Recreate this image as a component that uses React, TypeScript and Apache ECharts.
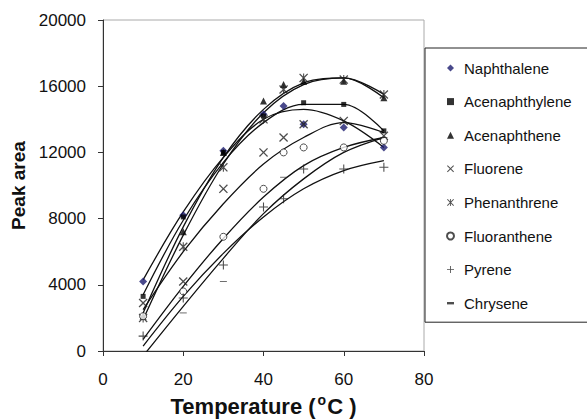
import React, { useEffect, useRef } from "react";
import * as echarts from "echarts";

const temps = [10, 20, 30, 40, 45, 50, 60, 70];
const naphthalene = [4200, 8200, 12100, 14300, 14800, 13700, 13500, 12300];
const acenaphthylene = [3300, 8100, 12000, 14200, null, 15000, 14900, 13300];
const acenaphthene = [2100, 7200, 12000, 15100, 16100, 16300, 16300, 15300];
const fluorene = [2900, 4200, 9800, 12000, 12900, 13700, 13900, 13000];
const phenanthrene = [2000, 6300, 11100, 14000, 15800, 16500, 16400, 15500];
const fluoranthene = [2100, 3600, 6900, 9800, 12000, 12300, 12300, 12700];
const pyrene = [900, 3200, 5200, 8700, 9200, 11000, 11000, 11100];
const chrysene = [null, 2300, 4200, null, 10500, null, null, 12900];

const fitTemps = [10, 20, 30, 40, 50, 60, 70];
const naphthaleneFit = [4300, 8400, 11700, 14000, 14600, 13900, 12300];
const acenaphthyleneFit = [3400, 7900, 11400, 13800, 14900, 14900, 13300];
const acenaphtheneFit = [2300, 7500, 11700, 14600, 16200, 16500, 15500];
const fluoreneFit = [2500, 6000, 8900, 11300, 12900, 13800, 13200];
const phenanthreneFit = [1900, 7000, 11300, 14400, 16100, 16500, 15300];
const fluorantheneFit = [700, 3900, 6800, 9300, 11200, 12300, 12900];
const pyreneFit = [300, 3300, 5900, 8100, 9800, 10900, 11500];
const chryseneFit = [-300, 2700, 5600, 8300, 10400, 12000, 12900];

const seriesNames = [
  "Naphthalene",
  "Acenaphthylene",
  "Acenaphthene",
  "Fluorene",
  "Phenanthrene",
  "Fluoranthene",
  "Pyrene",
  "Chrysene",
];

const FONT = "'Liberation Sans', Arial, Helvetica, sans-serif";

const X_PATH = "path://M0,1L1,0L5,4L9,0L10,1L6,5L10,9L9,10L5,6L1,10L0,9L4,5Z";
const STAR_PATH =
  "path://M0,1L1,0L5,4L9,0L10,1L6,5L10,9L9,10L5,6L1,10L0,9L4,5Z M4.4,0L5.6,0L5.6,10L4.4,10Z";
const PLUS_PATH = "path://M4.4,0H5.6V4.4H10V5.6H5.6V10H4.4V5.6H0V4.4H4.4Z";
const DASH_PATH = "path://M0,0H7V2.4H0Z";

function pairs(xs: number[], ys: (number | null)[]) {
  const out: number[][] = [];
  xs.forEach((x, i) => {
    const v = ys[i];
    if (v !== null && v !== undefined) out.push([x, v]);
  });
  return out;
}

export default function App() {
  const ref = useRef<HTMLDivElement>(null);
  useEffect(() => {
    if (!ref.current) return;
    const chart = echarts.init(ref.current, undefined, { renderer: "svg" });

    const markerDefs: any[] = [
      { data: naphthalene, symbol: "diamond", size: 8, color: "#1c1c6e" },
      { data: acenaphthylene, symbol: "rect", size: 5, color: "#000" },
      { data: acenaphthene, symbol: "triangle", size: 7, color: "#000" },
      { data: fluorene, symbol: X_PATH, size: 9, color: "#222" },
      { data: phenanthrene, symbol: STAR_PATH, size: 9, color: "#222" },
      { data: fluoranthene, symbol: "circle", size: 7, color: "#fff", border: "#222" },
      { data: pyrene, symbol: PLUS_PATH, size: 9, color: "#222" },
      { data: chrysene, symbol: DASH_PATH, size: [7, 2.4], color: "#222" },
    ];
    const fits = [
      naphthaleneFit,
      acenaphthyleneFit,
      acenaphtheneFit,
      fluoreneFit,
      phenanthreneFit,
      fluorantheneFit,
      pyreneFit,
      chryseneFit,
    ];

    const series: any[] = [];
    fits.forEach((f, i) => {
      series.push({
        name: seriesNames[i] + " fit",
        type: "line",
        data: pairs(fitTemps, f),
        smooth: 0.35,
        showSymbol: false,
        symbol: "none",
        silent: true,
        clip: true,
        lineStyle: { color: "#111", width: 1.3 },
        z: 2,
      });
    });
    markerDefs.forEach((m, i) => {
      series.push({
        name: seriesNames[i],
        type: "scatter",
        data: pairs(temps, m.data),
        symbol: m.symbol,
        symbolSize: m.size,
        symbolKeepAspect: true,
        itemStyle: m.border
          ? { color: m.color, borderColor: m.border, borderWidth: 1 }
          : { color: m.color, borderWidth: 0 },
        z: 5,
      });
    });

    chart.setOption({
      animation: false,
      backgroundColor: "#fff",
      textStyle: { fontFamily: FONT },
      grid: {
        left: 103,
        top: 20,
        width: 321,
        height: 331,
        show: true,
        borderColor: "#aaa",
        borderWidth: 1,
        backgroundColor: "transparent",
        containLabel: false,
        outerBoundsMode: "none",
      },
      xAxis: {
        type: "value",
        min: 0,
        max: 80,
        interval: 20,
        axisLine: { show: true, onZero: false, lineStyle: { color: "#333", width: 1 } },
        axisTick: { show: true, length: 5, lineStyle: { color: "#333" } },
        splitLine: { show: false },
        axisLabel: { fontSize: 17, color: "#111", margin: 20, fontFamily: FONT },
        name: "{a|Temperature (}{s|o}{a|C )}",
        nameLocation: "middle",
        nameGap: 42,
        nameTextStyle: {
          rich: {
            a: { fontSize: 22, fontWeight: "bold", color: "#111", fontFamily: FONT },
            s: {
              fontSize: 14,
              fontWeight: "bold",
              color: "#111",
              fontFamily: FONT,
              padding: [0, 1, 12, 2],
            },
          },
        },
      },
      yAxis: {
        type: "value",
        min: 0,
        max: 20000,
        interval: 4000,
        axisLine: { show: true, onZero: false, lineStyle: { color: "#333", width: 1 } },
        axisTick: { show: true, length: 5, lineStyle: { color: "#333" } },
        splitLine: { show: false },
        axisLabel: {
          fontSize: 17,
          color: "#111",
          margin: 17,
          fontFamily: FONT,
          formatter: (v: number) => String(v),
        },
        name: "Peak area",
        nameLocation: "middle",
        nameGap: 75,
        nameTextStyle: { fontSize: 19, fontWeight: "bold", color: "#111", fontFamily: FONT },
      },
      legend: {
        data: seriesNames,
        orient: "vertical",
        left: 425,
        top: 48,
        padding: [11, 40, 10, 21],
        itemWidth: 7,
        itemHeight: 7,
        itemGap: 15.6,
        borderColor: "#222",
        borderWidth: 1,
        backgroundColor: "#fff",
        selectedMode: false,
        textStyle: {
          fontSize: 15,
          color: "#111",
          fontFamily: FONT,
          lineHeight: 18,
          padding: [0, 0, 0, 5],
        },
      },
      series,
    });

    return () => chart.dispose();
  }, []);

  return (
    <div
      ref={ref}
      style={{ position: "fixed", left: 0, top: 0, width: 587, height: 419 }}
    />
  );
}
